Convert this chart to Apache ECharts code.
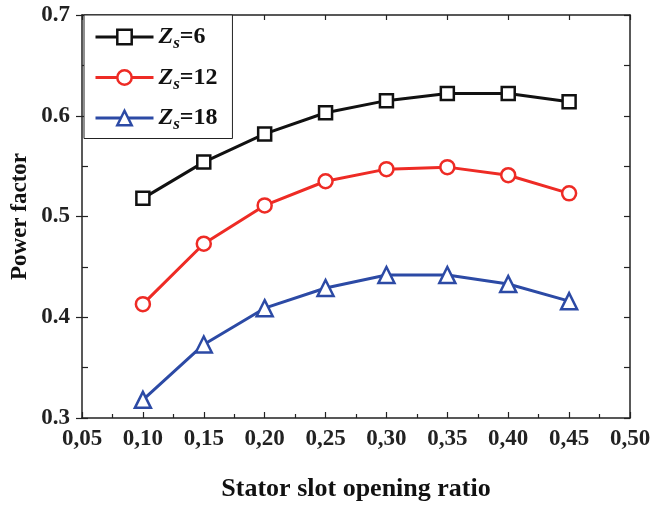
<!DOCTYPE html>
<html><head><meta charset="utf-8">
<script src="https://cdn.jsdelivr.net/npm/echarts@6/dist/echarts.min.js"></script>
<style>html,body{margin:0;padding:0;background:#fff}#c{width:654px;height:508px}</style>
</head><body><div id="c"></div>
<script>
const xValues = [0.10, 0.15, 0.20, 0.25, 0.30, 0.35, 0.40, 0.45];
const zs6  = [0.518, 0.554, 0.582, 0.603, 0.615, 0.622, 0.622, 0.614];
const zs12 = [0.413, 0.473, 0.511, 0.535, 0.547, 0.549, 0.541, 0.523];
const zs18 = [0.318, 0.373, 0.409, 0.429, 0.442, 0.442, 0.433, 0.416];
const seriesNames = ['Zs=6', 'Zs=12', 'Zs=18'];
const xTitle = 'Stator slot opening ratio';
const yTitle = 'Power factor';

const font = '"Liberation Serif", "Times New Roman", serif';
const pair = arr => xValues.map((x, i) => [x, arr[i]]);
const colors = ['#111111', '#ee2b25', '#2c4aa5'];
const symbols = ['rect', 'circle', 'triangle'];
const sizes = [13, 14, 16];

const chart = echarts.init(document.getElementById('c'));
const axisLine = { show: true, lineStyle: { color: '#222', width: 1.5 } };
chart.setOption({
  animation: false,
  backgroundColor: '#fff',
  grid: { left: 82, right: 24, top: 15, bottom: 90, containLabel: false, outerBoundsMode: 'none' },
  legend: {
    orient: 'vertical', left: 84, top: 15,
    backgroundColor: '#fff', borderColor: '#222', borderWidth: 1,
    padding: [10, 15, 5, 10], itemGap: 13,
    itemWidth: 58, itemHeight: 18,
    data: seriesNames,
    lineStyle: { width: 3 },
    itemStyle: { borderWidth: 2.5 },
    formatter: name => {
      const n = name.replace('Zs', '');
      return '{z|Z}{s|s}{n|' + n + '}';
    },
    textStyle: {
      rich: {
        z: { fontFamily: font, fontStyle: 'italic', fontWeight: 'bold', fontSize: 24, color: '#111' },
        s: { fontFamily: font, fontStyle: 'italic', fontWeight: 'bold', fontSize: 17, color: '#111', padding: [14, 0, 0, 0] },
        n: { fontFamily: font, fontWeight: 'bold', fontSize: 24, color: '#111' }
      }
    }
  },
  xAxis: [{
    type: 'value', min: 0.05, max: 0.5, interval: 0.05,
    name: xTitle, nameLocation: 'middle', nameGap: 58, nameMoveOverlap: false,
    nameTextStyle: { fontFamily: font, fontWeight: 'bold', fontSize: 26, color: '#111' },
    axisLine: axisLine,
    axisTick: { show: true, inside: true, length: 6, lineStyle: { color: '#222', width: 1.2 } },
    minorTick: { show: true, splitNumber: 2, length: 4, lineStyle: { color: '#222', width: 1.2 } },
    splitLine: { show: false },
    axisLabel: { fontFamily: font, fontWeight: 'bold', fontSize: 23, color: '#222', margin: 10,
      formatter: v => v.toFixed(2).replace('.', ',') }
  }, {
    type: 'value', position: 'top', min: 0.05, max: 0.5, interval: 0.05,
    axisLine: axisLine,
    axisTick: { show: true, inside: true, length: 5, lineStyle: { color: '#222', width: 1.2 } },
    axisLabel: { show: false }, splitLine: { show: false }
  }],
  yAxis: [{
    type: 'value', min: 0.3, max: 0.7, interval: 0.1,
    name: yTitle, nameLocation: 'middle', nameGap: 50, nameMoveOverlap: false,
    nameTextStyle: { fontFamily: font, fontWeight: 'bold', fontSize: 23, color: '#111' },
    axisLine: axisLine,
    axisTick: { show: true, inside: false, length: 6, lineStyle: { color: '#222', width: 1.2 } },
    splitLine: { show: false },
    axisLabel: { fontFamily: font, fontWeight: 'bold', fontSize: 23, color: '#222', margin: 12,
      formatter: v => v.toFixed(1) }
  }, {
    type: 'value', position: 'left', min: 0.3, max: 0.7, interval: 0.05,
    axisLine: { show: false },
    axisTick: { show: true, inside: true, length: 6, lineStyle: { color: '#222', width: 1.2 } },
    axisLabel: { show: false }, splitLine: { show: false }
  }, {
    type: 'value', position: 'right', min: 0.3, max: 0.7, interval: 0.05,
    axisLine: axisLine,
    axisTick: { show: true, inside: true, length: 6, lineStyle: { color: '#222', width: 1.2 } },
    axisLabel: { show: false }, splitLine: { show: false }
  }],
  series: [zs6, zs12, zs18].map((arr, i) => ({
    name: seriesNames[i], type: 'line', data: pair(arr),
    xAxisIndex: 0, yAxisIndex: 0,
    symbol: symbols[i], symbolSize: sizes[i],
    lineStyle: { color: colors[i], width: 3 },
    itemStyle: { color: '#fff', borderColor: colors[i], borderWidth: 2.5 },
    z: 3 + i
  }))
});
</script></body></html>
